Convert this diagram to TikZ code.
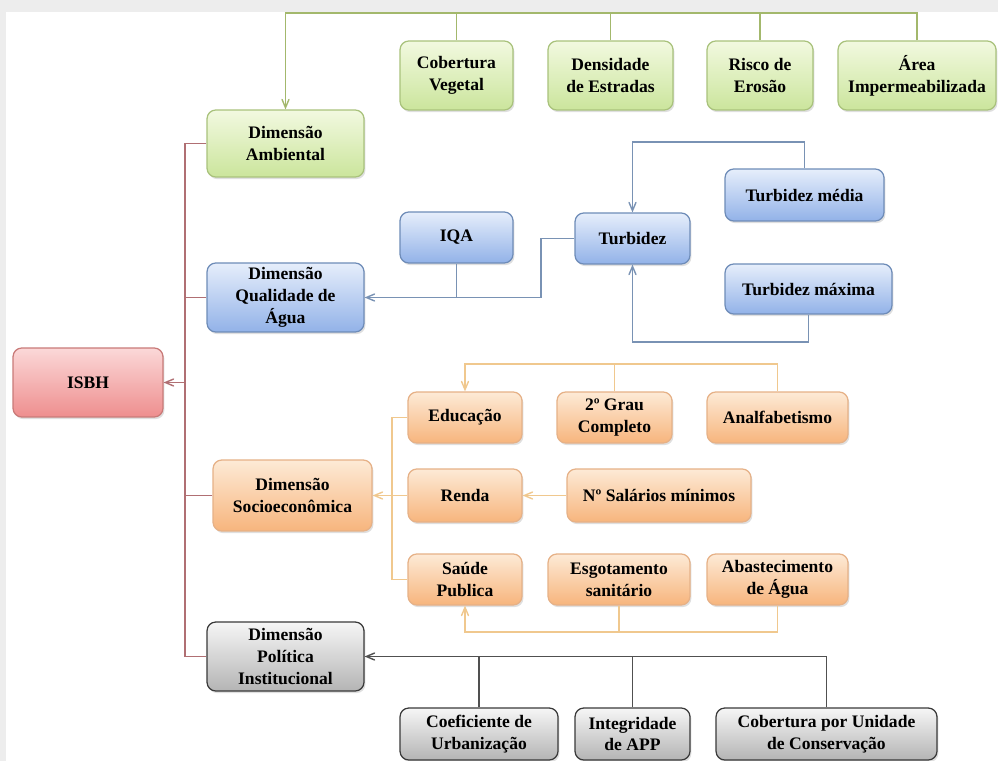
\documentclass[tikz,border=0pt]{standalone}
\usepackage{fontspec}
\setmainfont{LiberationSerif}[Extension=.ttf,UprightFont=*-Regular,BoldFont=*-Bold]
\usepackage{tikz}
\usetikzlibrary{arrows,shapes,shadows,positioning}
\definecolor{gdraw}{HTML}{A9C27C}\definecolor{gtop}{HTML}{F2F9E0}\definecolor{gbot}{HTML}{CBE59C}\definecolor{gline}{HTML}{A3B86C}
\definecolor{bdraw}{HTML}{6E8CB8}\definecolor{btop}{HTML}{E6EEFB}\definecolor{bbot}{HTML}{92B2E8}\definecolor{bline}{HTML}{7992B4}
\definecolor{rdraw}{HTML}{C97A78}\definecolor{rtop}{HTML}{FBD8D8}\definecolor{rbot}{HTML}{EE8E8E}\definecolor{rline}{HTML}{B06F73}
\definecolor{odraw}{HTML}{E6B187}\definecolor{otop}{HTML}{FDEAD6}\definecolor{obot}{HTML}{F7B57D}\definecolor{oline}{HTML}{F0C88E}
\definecolor{kdraw}{HTML}{3A3A3A}\definecolor{ktop}{HTML}{F6F6F6}\definecolor{kbot}{HTML}{B4B4B4}\definecolor{kline}{HTML}{505050}
\tikzstyle{Abox}=[draw,rounded corners=5pt,align=center,inner sep=1pt,line width=0.7pt,
                 font=\rmfamily\bfseries\fontsize{10}{12.5}\selectfont,
                 drop shadow={shadow xshift=0.8pt,shadow yshift=-1.2pt,opacity=0.25}]
\tikzstyle{Aamb}=[Abox,draw=gdraw,top color=gtop,bottom color=gbot]
\tikzstyle{Aagua}=[Abox,draw=bdraw,top color=btop,bottom color=bbot]
\tikzstyle{Aisbh}=[Abox,draw=rdraw,top color=rtop,bottom color=rbot]
\tikzstyle{Asoc}=[Abox,draw=odraw,top color=otop,bottom color=obot]
\tikzstyle{Apol}=[Abox,draw=kdraw,top color=ktop,bottom color=kbot]
\tikzstyle{hit}=[->,>=angle 45,line width=0.8pt]
\newcommand{\caixa}[6]{\node[#1,minimum width=#2cm,minimum height=#3cm] (#4) at (#5) {#6};}

\begin{document}
\begin{tikzpicture}[x=0.02cm,y=-0.02cm]
  \fill[black!7] (0,0) rectangle (998,761);
  \fill[white] (6,12) rectangle (998,761);
  \useasboundingbox (0,0) rectangle (998,761);
  \coordinate (gbus) at (0,13);
  \coordinate (rbus) at (185,0);
  \coordinate (bq) at (541,0);
  \coordinate (ttop) at (0,142);
  \coordinate (tbot) at (0,342);
  \coordinate (otop) at (0,364);
  \coordinate (ov) at (392,0);
  \coordinate (obot) at (0,632);

  % ambiental
  \caixa{Aamb}{3.14}{1.34}{amb}{285.5,143.5}{Dimensão\\Ambiental}
  \caixa{Aamb}{2.26}{1.38}{cob}{456.5,75.5}{Cobertura\\Vegetal}
  \caixa{Aamb}{2.5}{1.38}{den}{610.5,75.5}{Densidade\\de Estradas}
  \caixa{Aamb}{2.12}{1.38}{ris}{760,75.5}{Risco de\\Erosão}
  \caixa{Aamb}{3.16}{1.38}{area}{917,75.5}{Área\\Impermeabilizada}
  % qualidade de agua
  \caixa{Aagua}{3.14}{1.38}{qual}{285.5,297.5}{Dimensão\\Qualidade de\\Água}
  \caixa{Aagua}{2.26}{1.02}{iqa}{456.5,237.5}{IQA}
  \caixa{Aagua}{2.3}{1.02}{turb}{632.5,238.5}{Turbidez}
  \caixa{Aagua}{3.18}{1.04}{tmed}{804.5,195}{Turbidez média}
  \caixa{Aagua}{3.34}{1.0}{tmax}{808.5,289}{Turbidez máxima}
  % isbh
  \caixa{Aisbh}{3.0}{1.38}{isbh}{88,382.5}{ISBH}
  % socioeconomica
  \caixa{Asoc}{3.18}{1.42}{soc}{292.5,495.5}{Dimensão\\Socioeconômica}
  \caixa{Asoc}{2.28}{1.02}{edu}{465,417.5}{Educação}
  \caixa{Asoc}{2.3}{1.02}{grau}{614.5,417.5}{2º Grau\\Completo}
  \caixa{Asoc}{2.82}{1.02}{analf}{777.5,417.5}{Analfabetismo}
  \caixa{Asoc}{2.28}{1.06}{renda}{465,495.5}{Renda}
  \caixa{Asoc}{3.68}{1.06}{sal}{659,495.5}{Nº Salários mínimos}
  \caixa{Asoc}{2.28}{1.02}{saude}{465,579.5}{Saúde\\Publica}
  \caixa{Asoc}{2.84}{1.02}{esg}{619,579.5}{Esgotamento\\sanitário}
  \caixa{Asoc}{2.82}{1.02}{abast}{777.5,579.5}{Abastecimento\\de Água}
  % politica
  \caixa{Apol}{3.14}{1.38}{pol}{285.5,656.5}{Dimensão\\Política\\Institucional}
  \caixa{Apol}{3.16}{1.04}{coef}{479,734}{Coeficiente de\\Urbanização}
  \caixa{Apol}{2.3}{1.04}{integ}{632.5,734}{Integridade\\de APP}
  \caixa{Apol}{4.42}{1.04}{cobuc}{826.5,734}{Cobertura por Unidade\\de Conservação}

  \draw[hit,gline] (area.north) |- (amb.north |- gbus) -- (amb.north);
  \foreach \n in {cob,den,ris} \draw[gline,line width=0.8pt] (\n.north) -- (\n.north |- gbus);

  \draw[rline,line width=0.8pt] (amb.west) -| (rbus |- pol.west) -- (pol.west);
  \draw[rline,line width=0.8pt] (qual.west) -- (qual.west -| rbus);
  \draw[rline,line width=0.8pt] (soc.west) -- (soc.west -| rbus);
  \draw[hit,rline] (isbh.east -| rbus) -- (isbh.east);

  \draw[hit,bline] (turb.west) -| (qual.east -| bq) -- (qual.east);
  \draw[bline,line width=0.8pt] (iqa.south) -- (iqa.south |- qual.east);
  \draw[hit,bline] (tmed.north) |- (turb.north |- ttop) -- (turb.north);
  \draw[hit,bline] (tmax.south) |- (turb.south |- tbot) -- (turb.south);

  \draw[hit,oline] (analf.north) |- (edu.north |- otop) -- (edu.north);
  \draw[oline,line width=0.8pt] (grau.north) -- (grau.north |- otop);
  \draw[oline,line width=0.8pt] (edu.west) -| (ov |- saude.west) -- (saude.west);
  \draw[hit,oline] (renda.west) -- (soc.east);
  \draw[hit,oline] (sal.west) -- (renda.east);
  \draw[hit,oline] (abast.south) |- (saude.south |- obot) -- (saude.south);
  \draw[oline,line width=0.8pt] (esg.south) -- (esg.south |- obot);

  \draw[hit,kline] (cobuc.north) |- (pol.east);
  \foreach \n in {coef,integ} \draw[kline,line width=0.8pt] (\n.north) -- (\n.north |- pol.east);
\end{tikzpicture}
\end{document}
